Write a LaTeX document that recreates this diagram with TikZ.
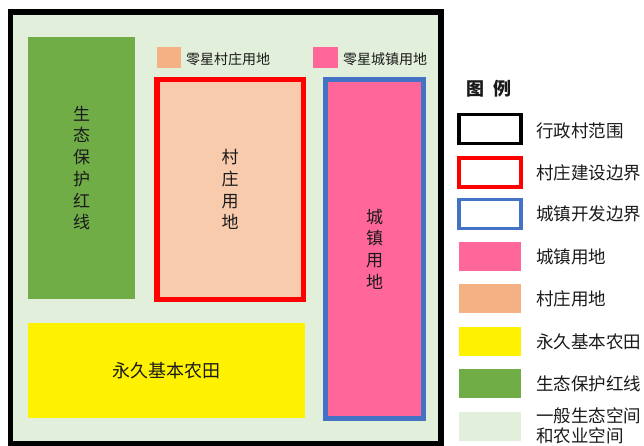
\documentclass[tikz,border=0pt]{standalone}
\usepackage{fontspec}
\setmainfont{Noto Sans CJK SC}
\definecolor{bgg}{HTML}{E2EFDA}
\definecolor{eco}{HTML}{70AD47}
\definecolor{vil}{HTML}{F4B183}
\definecolor{villight}{HTML}{F8CBAD}
\definecolor{town}{HTML}{FF6699}
\definecolor{tblue}{HTML}{4472C4}
\definecolor{txt}{HTML}{1A1A1A}
\begin{document}
\begin{tikzpicture}[x=1pt,y=-1pt,
  area/.style={rectangle,inner sep=0pt,outer sep=0pt,text=txt,align=center},
  vtext/.style={font=\fontsize{17}{21.7}\selectfont},
  smalllab/.style={anchor=west,inner sep=0pt,text=txt,font=\fontsize{14}{16}\selectfont},
  legbox/.style={rectangle,inner sep=0pt,outer sep=0pt,minimum width=62pt,minimum height=29pt},
  leglab/.style={anchor=west,inner sep=0pt,text=txt,align=left,font=\fontsize{17.5}{19.5}\selectfont}]
\useasboundingbox (0,0) rectangle (644,446);
% main frame
\node[area,draw=black,line width=5.5pt,fill=bgg,minimum width=430.5pt,minimum height=431.5pt] (frame) at (225.75,227.75) {};
% eco red line
\node[area,fill=eco,minimum width=107pt,minimum height=262pt,vtext] (eco) at (81.5,168) {生\\态\\保\\护\\红\\线};
% scattered legends on map
\node[area,fill=vil,minimum width=24pt,minimum height=21pt] (sv) at (169,57.5) {};
\node[smalllab] (svl) at (186,59) {零星村庄用地};
\node[area,fill=town,minimum width=25pt,minimum height=21pt] (st) at (325.5,57.5) {};
\node[smalllab] (stl) at (343,59) {零星城镇用地};
% village
\node[area,draw=red,line width=5.5pt,fill=villight,minimum width=146.5pt,minimum height=219.5pt,vtext] (village) at (230,189.5) {村\\庄\\用\\地};
% town
\node[area,draw=tblue,line width=5pt,fill=town,minimum width=98pt,minimum height=339pt,vtext] (town) at (374.5,249) {城\\镇\\用\\地};
% farmland
\node[area,fill=yellow,minimum width=277pt,minimum height=95pt,font=\fontsize{18}{20}\selectfont] (farm) at (166.5,370.5) {永久基本农田};
% legend
\node[inner sep=0pt,text=txt,font=\fontsize{18}{20}\selectfont\bfseries] (ltitle) at (488.5,89) {图\hspace{9pt}例};
\node[legbox,draw=black,line width=3.5pt,fill=white] (l1) at (490,129) {};
\node[leglab] (t1) at (536,131) {行政村范围};
\node[legbox,draw=red,line width=3.3pt,fill=white] (l2) at (490,172.5) {};
\node[leglab] (t2) at (536,172.5) {村庄建设边界};
\node[legbox,draw=tblue,line width=3.3pt,fill=white] (l3) at (490,214) {};
\node[leglab] (t3) at (536,214) {城镇开发边界};
\node[legbox,fill=town] (l4) at (490,256.5) {};
\node[leglab] (t4) at (536,256.5) {城镇用地};
\node[legbox,fill=vil] (l5) at (490,298.5) {};
\node[leglab] (t5) at (536,298.5) {村庄用地};
\node[legbox,fill=yellow] (l6) at (490,341.5) {};
\node[leglab] (t6) at (536,341.5) {永久基本农田};
\node[legbox,fill=eco] (l7) at (490,383.5) {};
\node[leglab] (t7) at (536,383.5) {生态保护红线};
\node[legbox,fill=bgg] (l8) at (490,426.5) {};
\node[leglab] (t8) at (536,426) {一般生态空间\\和农业空间};
\end{tikzpicture}
\end{document}
